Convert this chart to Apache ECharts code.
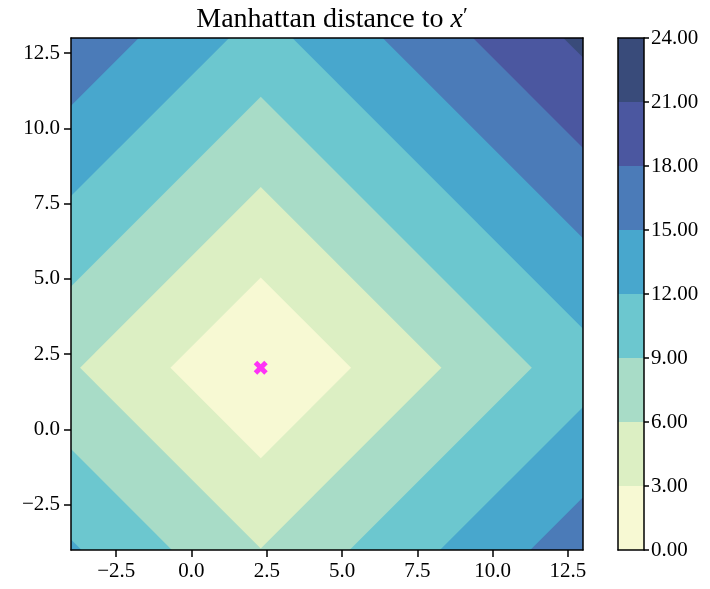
<!DOCTYPE html>
<html>
<head>
<meta charset="utf-8">
<script src="https://cdn.jsdelivr.net/npm/echarts@6/dist/echarts.min.js"></script>
<style>
  html, body { margin: 0; padding: 0; background: #fff; }
  #chart { width: 710px; height: 589px; }
</style>
</head>
<body>
<div id="chart"></div>
<script>
// Domain of the plotted field and the reference point x'
const xRange = [-4, 13];
const yRange = [-4, 13];
const refPoint = [2.3, 2.05];

// Contour levels of the Manhattan distance |x - x'|_1 and their fill colours
const levels = [0, 3, 6, 9, 12, 15, 18, 21, 24];
const bandColors = ['#f7f9d3', '#dcefc3', '#a8dcc7', '#6cc7cf', '#48a7cd', '#4b7bb8', '#4b57a0', '#394b7a'];

// Tick values
const xTicks = [-2.5, 0, 2.5, 5, 7.5, 10, 12.5];
const yTicks = [-2.5, 0, 2.5, 5, 7.5, 10, 12.5];

const FONT = 'Liberation Serif';
const fmt1 = v => (v < 0 ? '\u2212' : '') + Math.abs(v).toFixed(1);

// Each band's outer boundary is a diamond {p : |p - x'|_1 = level};
// painting the diamonds from largest to smallest yields the filled bands.
const bandData = [];
for (let i = levels.length - 1; i >= 1; i--) bandData.push([i - 1, levels[i]]);

const chart = echarts.init(document.getElementById('chart'), null, { renderer: 'canvas' });

const axisLineStyle = { color: '#000', width: 1.5 };

chart.setOption({
  animation: false,
  backgroundColor: '#fff',
  title: {
    text: '{a|Manhattan distance to }{b|x}{c|\u2032}',
    left: 327,
    top: 0,
    textAlign: 'center',
    textStyle: {
      fontWeight: 'normal',
      rich: {
        a: { fontFamily: FONT, fontSize: 28, fontWeight: 'normal', color: '#000' },
        b: { fontFamily: FONT, fontSize: 28, fontStyle: 'italic', fontWeight: 'normal', color: '#000' },
        c: { fontFamily: FONT, fontSize: 22, fontWeight: 'normal', color: '#000', verticalAlign: 'top', padding: [0, 0, 8, 0] }
      }
    }
  },
  grid: [
    { left: 71, top: 38, width: 512, height: 512, show: false },
    { left: 618, top: 38, width: 26, height: 512, show: false }
  ],
  xAxis: [
    {
      gridIndex: 0, type: 'value', min: xRange[0], max: xRange[1], z: 10,
      axisLine: { show: true, onZero: false, lineStyle: axisLineStyle },
      axisTick: { show: true, length: 7, lineStyle: { color: '#000', width: 1.5 }, customValues: xTicks },
      axisLabel: { fontFamily: FONT, fontSize: 21, color: '#000', margin: 11, customValues: xTicks, formatter: fmt1 },
      splitLine: { show: false }
    },
    {
      gridIndex: 0, type: 'value', min: xRange[0], max: xRange[1], position: 'top', z: 10,
      axisLine: { show: true, onZero: false, lineStyle: axisLineStyle },
      axisTick: { show: false }, axisLabel: { show: false }, splitLine: { show: false }
    },
    {
      gridIndex: 1, type: 'value', min: 0, max: 1, z: 10,
      axisLine: { show: true, onZero: false, lineStyle: axisLineStyle },
      axisTick: { show: false }, axisLabel: { show: false }, splitLine: { show: false }
    },
    {
      gridIndex: 1, type: 'value', min: 0, max: 1, position: 'top', z: 10,
      axisLine: { show: true, onZero: false, lineStyle: axisLineStyle },
      axisTick: { show: false }, axisLabel: { show: false }, splitLine: { show: false }
    }
  ],
  yAxis: [
    {
      gridIndex: 0, type: 'value', min: yRange[0], max: yRange[1], z: 10,
      axisLine: { show: true, onZero: false, lineStyle: axisLineStyle },
      axisTick: { show: true, length: 7, lineStyle: { color: '#000', width: 1.5 }, customValues: yTicks },
      axisLabel: { fontFamily: FONT, fontSize: 21, color: '#000', margin: 11, customValues: yTicks, formatter: fmt1 },
      splitLine: { show: false }
    },
    {
      gridIndex: 0, type: 'value', min: yRange[0], max: yRange[1], position: 'right', z: 10,
      axisLine: { show: true, onZero: false, lineStyle: axisLineStyle },
      axisTick: { show: false }, axisLabel: { show: false }, splitLine: { show: false }
    },
    {
      gridIndex: 1, type: 'value', min: levels[0], max: levels[levels.length - 1], interval: 3, position: 'right', z: 10,
      axisLine: { show: true, onZero: false, lineStyle: axisLineStyle },
      axisTick: { show: true, length: 5, lineStyle: { color: '#000', width: 1.5 } },
      axisLabel: { fontFamily: FONT, fontSize: 21, color: '#000', margin: 7, formatter: v => v.toFixed(2) },
      splitLine: { show: false }
    },
    {
      gridIndex: 1, type: 'value', min: levels[0], max: levels[levels.length - 1], position: 'left', z: 10,
      axisLine: { show: true, onZero: false, lineStyle: axisLineStyle },
      axisTick: { show: false }, axisLabel: { show: false }, splitLine: { show: false }
    }
  ],
  series: [
    {
      // filled contour bands
      type: 'custom',
      xAxisIndex: 0, yAxisIndex: 0,
      clip: true,
      z: 1,
      data: bandData,
      renderItem: function (params, api) {
        const idx = api.value(0);
        const r = api.value(1);
        const cx = refPoint[0], cy = refPoint[1];
        const pts = [[cx + r, cy], [cx, cy + r], [cx - r, cy], [cx, cy - r]].map(p => api.coord(p));
        return { type: 'polygon', shape: { points: pts }, style: { fill: bandColors[idx], stroke: null } };
      }
    },
    {
      // reference point x'
      type: 'scatter',
      xAxisIndex: 0, yAxisIndex: 0,
      z: 3,
      symbol: 'path://M0.25,0 L0.5,0.25 L0.75,0 L1,0.25 L0.75,0.5 L1,0.75 L0.75,1 L0.5,0.75 L0.25,1 L0,0.75 L0.25,0.5 L0,0.25 Z',
      symbolSize: 14,
      itemStyle: { color: '#ff00ff' },
      data: [refPoint]
    },
    {
      // colorbar swatches
      type: 'custom',
      xAxisIndex: 2, yAxisIndex: 2,
      z: 1,
      data: bandColors.map((c, i) => [i, levels[i], levels[i + 1]]),
      renderItem: function (params, api) {
        const idx = api.value(0);
        const p0 = api.coord([0, api.value(1)]);
        const p1 = api.coord([1, api.value(2)]);
        return {
          type: 'rect',
          shape: { x: p0[0], y: p1[1], width: p1[0] - p0[0], height: p0[1] - p1[1] },
          style: { fill: bandColors[idx], stroke: null }
        };
      }
    }
  ]
});
</script>
</body>
</html>
